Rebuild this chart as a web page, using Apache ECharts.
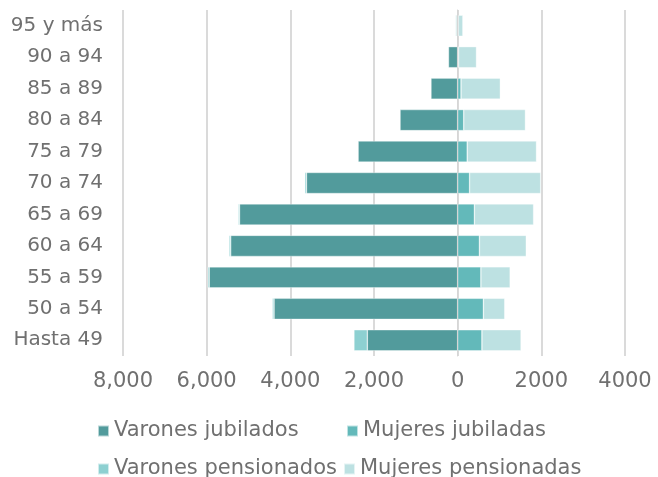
<!DOCTYPE html>
<html>
<head>
<meta charset="utf-8">
<script src="https://cdn.jsdelivr.net/npm/echarts@6/dist/echarts.min.js"></script>
<style>
html,body{margin:0;padding:0;background:#fff;}
#chart{width:658px;height:477px;}
</style>
</head>
<body>
<div id="chart"></div>
<script>
const categories = ['Hasta 49','50 a 54','55 a 59','60 a 64','65 a 69','70 a 74','75 a 79','80 a 84','85 a 89','90 a 94','95 y más'];
const varonesJubilados = [-2160, -4390, -5940, -5425, -5215, -3615, -2380, -1380, -640, -220, -30];
const mujeresJubiladas = [580, 615, 555, 520, 400, 285, 230, 145, 80, 20, 15];
const varonesPensionados = [-320, -40, -35, -40, -30, -40, 0, -10, -10, 0, -20];
const mujeresPensionadas = [935, 510, 700, 1120, 1415, 1700, 1655, 1475, 940, 430, 110];
const xTickLabels = ['8,000','6,000','4,000','2,000','0','2000','4000'];

const FONT = '"DejaVu Sans"';
const TXT = '#707070';
const colors = ['#529b9c', '#63b9ba', '#8dd0d1', '#bde1e2'];
const names = ['Varones jubilados','Mujeres jubiladas','Varones pensionados','Mujeres pensionadas'];

const chart = echarts.init(document.getElementById('chart'), null, {renderer:'canvas'});

function legend(name, left, top){
  return {
    data:[name], left:left, top:top, icon:'rect', itemWidth:11, itemHeight:11, itemGap:0,
    padding:0, selectedMode:false,
    textStyle:{fontFamily:FONT, fontSize:21, lineHeight:22, color:TXT}
  };
}

function bar(i, data){
  return {
    name:names[i], type:'bar', stack:'total', data:data,
    barCategoryGap:'33%',
    itemStyle:{color:colors[i], borderColor:'rgba(255,255,255,0.6)', borderWidth:0.6},
    emphasis:{disabled:true}
  };
}

chart.setOption({
  animation:false,
  color:colors,
  legend:[
    legend(names[0], 97, 420),
    legend(names[1], 346, 420),
    legend(names[2], 97, 458),
    legend(names[3], 343, 458)
  ],
  grid:{left:123, right:33, top:10, height:346},
  xAxis:{type:'value', min:-8000, max:4000, interval:2000,
     axisLine:{show:false}, axisTick:{show:false},
     axisLabel:{fontFamily:FONT, fontSize:21, color:TXT, margin:15,
       formatter:function(v){ return xTickLabels[Math.round((v + 8000) / 2000)]; }},
     splitLine:{show:true, lineStyle:{color:'#dadada', width:2}}},
  yAxis:{type:'category', data:categories, z:3,
     axisLine:{show:true, onZero:true, lineStyle:{color:'#d6d6d6', width:1}},
     axisTick:{show:false}, splitLine:{show:false},
     axisLabel:{fontFamily:FONT, fontSize:20, color:TXT, margin:20}},
  series:[
    bar(0, varonesJubilados),
    bar(1, mujeresJubiladas),
    bar(2, varonesPensionados),
    bar(3, mujeresPensionadas)
  ]
});
</script>
</body>
</html>
